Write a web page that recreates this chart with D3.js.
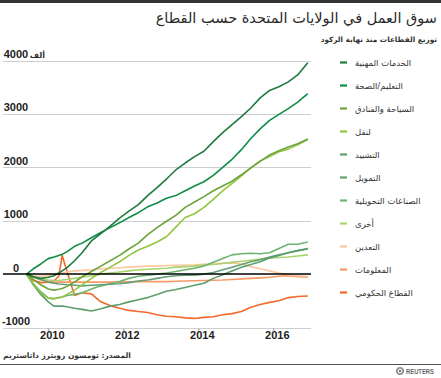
<!DOCTYPE html>
<html><head><meta charset="utf-8">
<script src="https://cdn.jsdelivr.net/npm/d3@7"></script>
<style>
html,body{margin:0;padding:0;background:#fff;}
svg{display:block;}
</style></head>
<body>
<svg id="chart" width="441" height="378"></svg>
<script>
const title = "سوق العمل في الولايات المتحدة حسب القطاع";
const subtitle = "توزيع القطاعات منذ نهاية الركود";
const unitLabel = "ألف";
const sourceText = "المصدر: تومسون رويترز داتاستريم";
const yTicks = [-1000, 0, 1000, 2000, 3000, 4000];
const xTicks = [2010, 2012, 2014, 2016];

const dates = [2009.42, 2009.6, 2009.8, 2010.0, 2010.15, 2010.28, 2010.37, 2010.5, 2010.7, 2010.9,
  2011.15, 2011.4, 2011.65, 2011.9, 2012.15, 2012.4, 2012.65, 2012.9, 2013.15, 2013.4,
  2013.65, 2013.9, 2014.15, 2014.4, 2014.65, 2014.9, 2015.15, 2015.4, 2015.65, 2015.9,
  2016.15, 2016.4, 2016.65, 2016.92];

const categories = ["الخدمات المهنية", "التعليم/الصحة", "السياحة والفنادق", "لنقل", "التشييد",
  "التمويل", "الصناعات التحويلية", "أخرى", "التعدين", "المعلومات", "القطاع الحكومي"];
const colors = ["#1f7a3f", "#0f8c46", "#6aa43a", "#92c640", "#5c9e6c", "#62a074", "#6cb46e",
  "#a9d36e", "#fbc8a2", "#f59a66", "#f2692a"];

const professional = [0,-50,-80,-60,-30,20,60,120,250,400,620,760,900,1050,1180,1300,1470,1620,1780,1950,2080,2200,2300,2480,2650,2800,2950,3110,3300,3440,3510,3600,3730,3960];
const eduHealth = [0,100,190,290,320,350,370,420,520,580,680,780,870,960,1060,1150,1260,1330,1420,1470,1560,1650,1730,1850,2000,2150,2330,2540,2720,2880,2990,3100,3220,3380];
const leisure = [0,-100,-200,-280,-300,-285,-270,-230,-150,-50,50,150,250,350,470,580,740,870,990,1100,1250,1350,1450,1560,1650,1740,1860,1990,2110,2230,2310,2380,2440,2530];
const transport = [0,-180,-350,-450,-460,-440,-430,-380,-300,-200,-80,30,130,230,350,450,520,600,700,880,1060,1130,1250,1400,1560,1700,1840,1990,2120,2200,2290,2340,2420,2520];
const construction = [0,-200,-380,-520,-600,-600,-600,-610,-640,-660,-690,-650,-600,-570,-520,-480,-440,-380,-320,-290,-250,-210,-170,-80,-10,60,130,180,230,300,350,400,440,480];
const finance = [0,-50,-100,-150,-170,-185,-190,-200,-210,-220,-210,-200,-190,-180,-160,-130,-110,-80,-50,-30,-20,-20,0,30,80,130,180,230,270,320,360,400,440,470];
const manufacturing = [0,-180,-330,-450,-460,-440,-430,-400,-380,-350,-280,-220,-180,-140,-80,-40,-20,0,20,50,80,110,150,220,290,360,380,390,380,400,480,560,560,600];
const other = [0,-50,-90,-110,-120,-115,-110,-100,-80,-60,-30,0,20,40,60,80,90,100,110,130,140,150,170,180,200,220,240,260,280,300,310,320,340,360];
const mining = [0,-30,-40,-20,0,15,20,40,60,70,80,100,110,120,130,140,150,150,160,165,170,175,185,195,205,210,190,140,100,60,20,-10,-30,-40];
const information = [0,-60,-110,-140,-150,-150,-150,-150,-150,-150,-150,-150,-150,-150,-145,-140,-140,-140,-140,-135,-130,-125,-120,-115,-110,-100,-90,-80,-70,-60,-40,-30,-50,-60];
const government = [0,-120,-160,-150,-130,-40,350,50,-400,-350,-370,-520,-590,-640,-680,-700,-720,-760,-790,-800,-820,-830,-810,-800,-760,-740,-700,-620,-570,-530,-500,-440,-420,-410];

const seriesValues = [professional, eduHealth, leisure, transport, construction, finance,
  manufacturing, other, mining, information, government];

const svg = d3.select("#chart");
const numFont = "'Liberation Sans', Arial, sans-serif";
const arFont = "'DejaVu Sans', sans-serif";

const x = d3.scaleLinear().domain([2010, 2016]).range([48.3, 273.3]);
const y = d3.scaleLinear().domain([-1000, 4000]).range([327.5, 60.5]);

// top bar
svg.append("rect").attr("x", 0).attr("y", 0).attr("width", 441).attr("height", 3).attr("fill", "#333");

svg.append("text").attr("x", 437).attr("y", 23).attr("text-anchor", "end")
  .attr("font-family", arFont).attr("font-size", 14.5).attr("fill", "#2a2a2a")
  .text(title);
svg.append("text").attr("x", 437).attr("y", 42).attr("text-anchor", "end")
  .attr("font-family", arFont).attr("font-size", 7.3).attr("font-weight", "bold").attr("fill", "#333")
  .text(subtitle);

// grid
const grid = svg.append("g");
grid.selectAll("line").data(yTicks.filter(d => d !== 0)).join("line")
  .attr("x1", 3).attr("x2", 311).attr("y1", d => Math.round(y(d)) + 0.5).attr("y2", d => Math.round(y(d)) + 0.5)
  .attr("stroke", "#cfcfcf").attr("stroke-width", 1.2);
svg.append("g").selectAll("text").data(yTicks).join("text")
  .attr("x", 16).attr("y", d => y(d) - 2.5).attr("text-anchor", "middle")
  .attr("font-family", numFont).attr("font-weight", "bold").attr("font-size", 11).attr("fill", "#222")
  .text(d => d);
svg.append("text").attr("x", 45).attr("y", y(4000) - 3).attr("text-anchor", "end")
  .attr("font-family", arFont).attr("font-weight", "bold").attr("font-size", 8).attr("fill", "#333")
  .text(unitLabel);

// x axis
const xAxis = svg.append("g").attr("transform", `translate(0,${Math.round(y(-1000)) + 0.5})`)
  .call(d3.axisBottom(x).tickValues(xTicks).tickSize(2.5).tickFormat(""));
xAxis.select(".domain").remove();
xAxis.selectAll(".tick line").attr("stroke", "#999");
svg.append("g").selectAll("text").data(xTicks).join("text")
  .attr("x", d => x(d) + 4).attr("y", 339).attr("text-anchor", "middle")
  .attr("font-family", numFont).attr("font-weight", "bold").attr("font-size", 11).attr("fill", "#222")
  .text(d => d);

// lines
const line = d3.line().x((d, i) => x(dates[i])).y(d => y(d));
svg.append("g").selectAll("path").data(seriesValues.map((v, i) => ({v, i})).reverse()).join("path")
  .attr("d", d => line(d.v)).attr("fill", "none").attr("stroke", d => colors[d.i])
  .attr("stroke-width", 1.6).attr("stroke-linejoin", "round");

// zero line
svg.append("line").attr("x1", 3).attr("x2", 311).attr("y1", y(0)).attr("y2", y(0))
  .attr("stroke", "#000").attr("stroke-width", 1.5);

// legend
const leg = svg.append("g").selectAll("g").data(categories).join("g")
  .attr("transform", (d, i) => `translate(0,${62.5 + i * 23})`);
leg.append("line").attr("x1", 340).attr("x2", 347).attr("y1", 0).attr("y2", 0)
  .attr("stroke", (d, i) => colors[i]).attr("stroke-width", 2.2);
leg.append("text").attr("x", 355).attr("y", 3).attr("text-anchor", "start")
  .attr("font-family", arFont).attr("font-size", 8.5).attr("fill", "#333")
  .text(d => d);

// source
svg.append("text").attr("x", 3).attr("y", 358).attr("text-anchor", "start")
  .attr("font-family", arFont).attr("font-size", 7.5).attr("font-weight", "bold").attr("fill", "#333")
  .text(sourceText);
svg.append("line").attr("x1", 0).attr("x2", 441).attr("y1", 364.5).attr("y2", 364.5)
  .attr("stroke", "#555").attr("stroke-width", 1);

// reuters logo
const logo = svg.append("g").attr("transform", "translate(400,371)");
const dots = d3.range(12).map(k => k * Math.PI * 2 / 12);
logo.selectAll("circle").data(dots).join("circle")
  .attr("cx", a => Math.cos(a) * 3.2).attr("cy", a => Math.sin(a) * 3.2).attr("r", 0.9).attr("fill", "#777");
logo.append("circle").attr("r", 1.3).attr("fill", "#777");
svg.append("text").attr("x", 406).attr("y", 374).attr("font-family", numFont).attr("font-weight", "bold")
  .attr("font-size", 7.5).attr("textLength", 28).attr("lengthAdjust", "spacingAndGlyphs")
  .attr("fill", "#666").text("REUTERS");
</script>
</body></html>
